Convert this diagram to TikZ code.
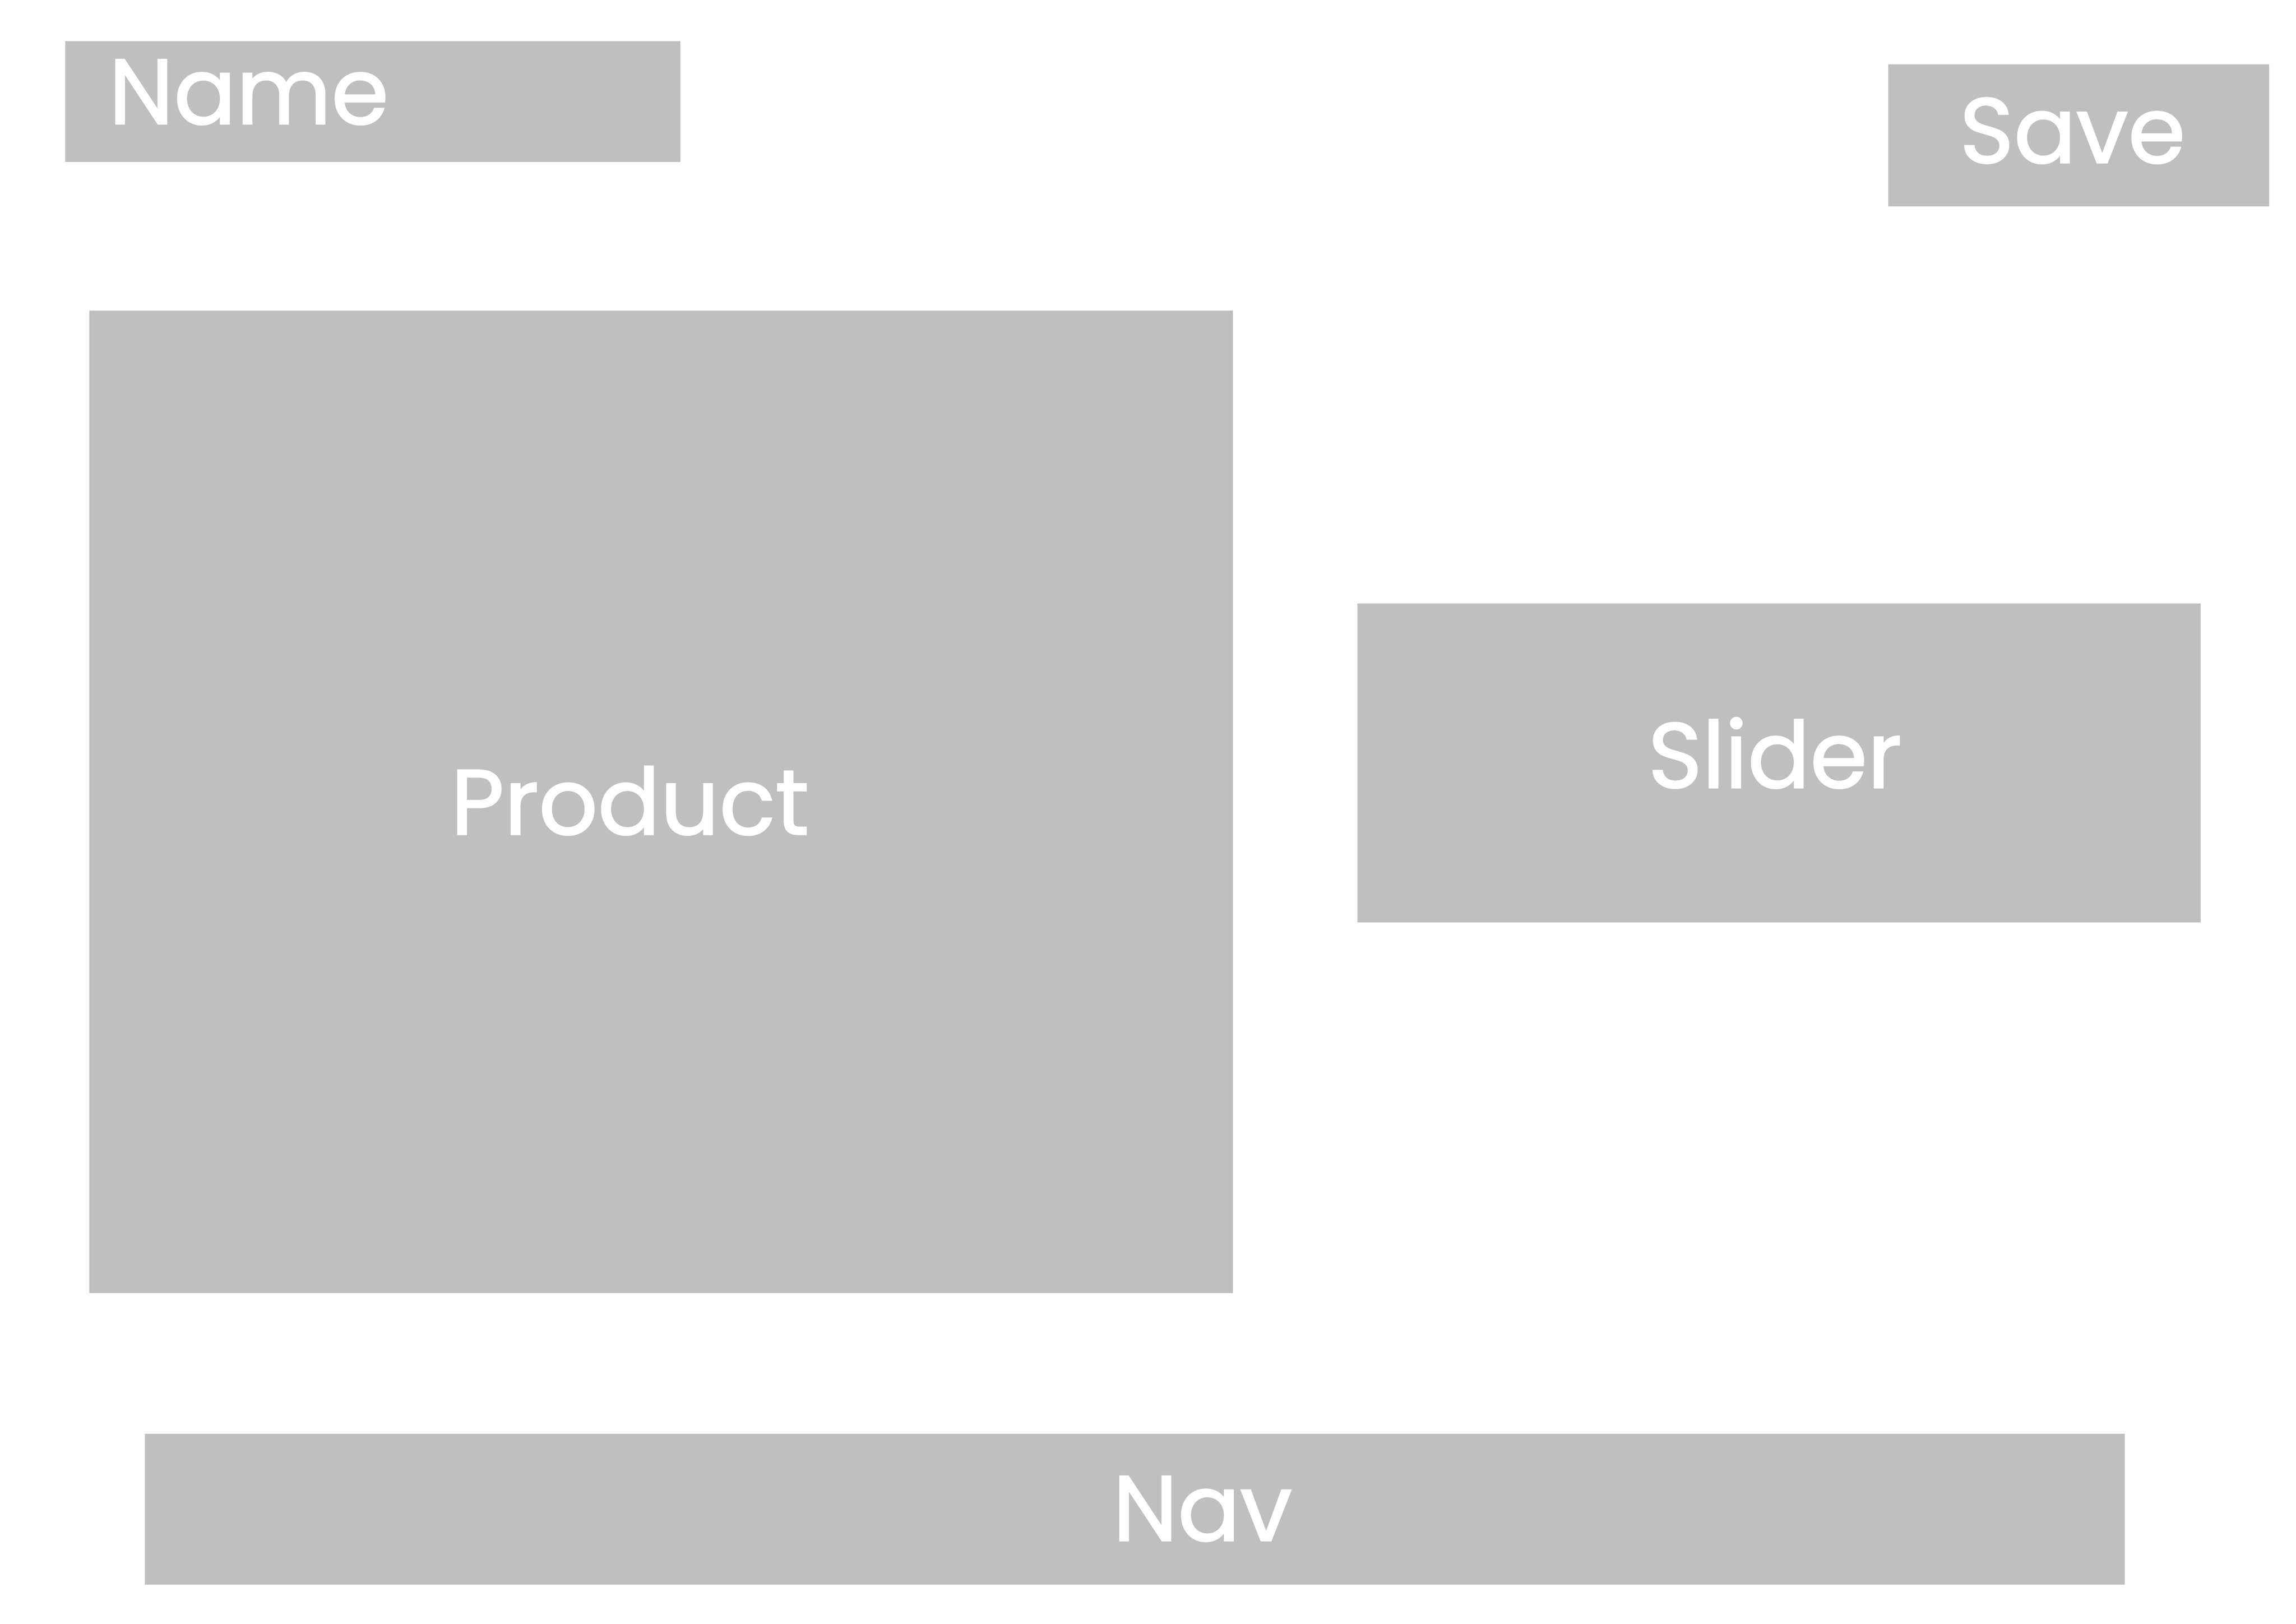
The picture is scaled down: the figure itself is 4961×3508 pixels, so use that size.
\documentclass[tikz,border=0pt]{standalone}
\usepackage{fontspec}
\setmainfont{Poppins}
\newfontfamily\lblfont{Poppins}[FakeBold=1.5]
\usetikzlibrary{fit}
\definecolor{boxgray}{HTML}{BFBFBF}

\tikzset{
	box/.style={fill=boxgray, draw=none, inner sep=0pt},
	lbl/.style={text=white, inner sep=0pt, font=\lblfont\fontsize{34}{40}\selectfont}
}

\begin{document}
\begin{tikzpicture}[x=0.05987mm, y=-0.05987mm]
		\useasboundingbox (0,0) rectangle (4961,3508);
		% boxes
		\node[box, fit={(141,89) (1470,350)}] (name) {};
		\node[box, fit={(4080,139) (4903,446)}] (save) {};
		\node[box, fit={(193,671) (2664,2794)}] (product) {};
		\node[box, fit={(2933,1304) (4755,1993)}] (slider) {};
		\node[box, fit={(313,3098) (4591,3424)}] (nav) {};
		% labels
		\node[lbl, anchor=base west] (name-t) at (234,268) {Name};
		\node[lbl, anchor=base] (save-t) at (4478,352) {Save};
		\node[lbl, anchor=base] (product-t) at (1361,1803) {Product};
		\node[lbl, anchor=base] (slider-t) at (3835,1702) {Slider};
		\node[lbl, anchor=base] (nav-t) at (2598,3329) {Nav};
	\end{tikzpicture}
\end{document}
